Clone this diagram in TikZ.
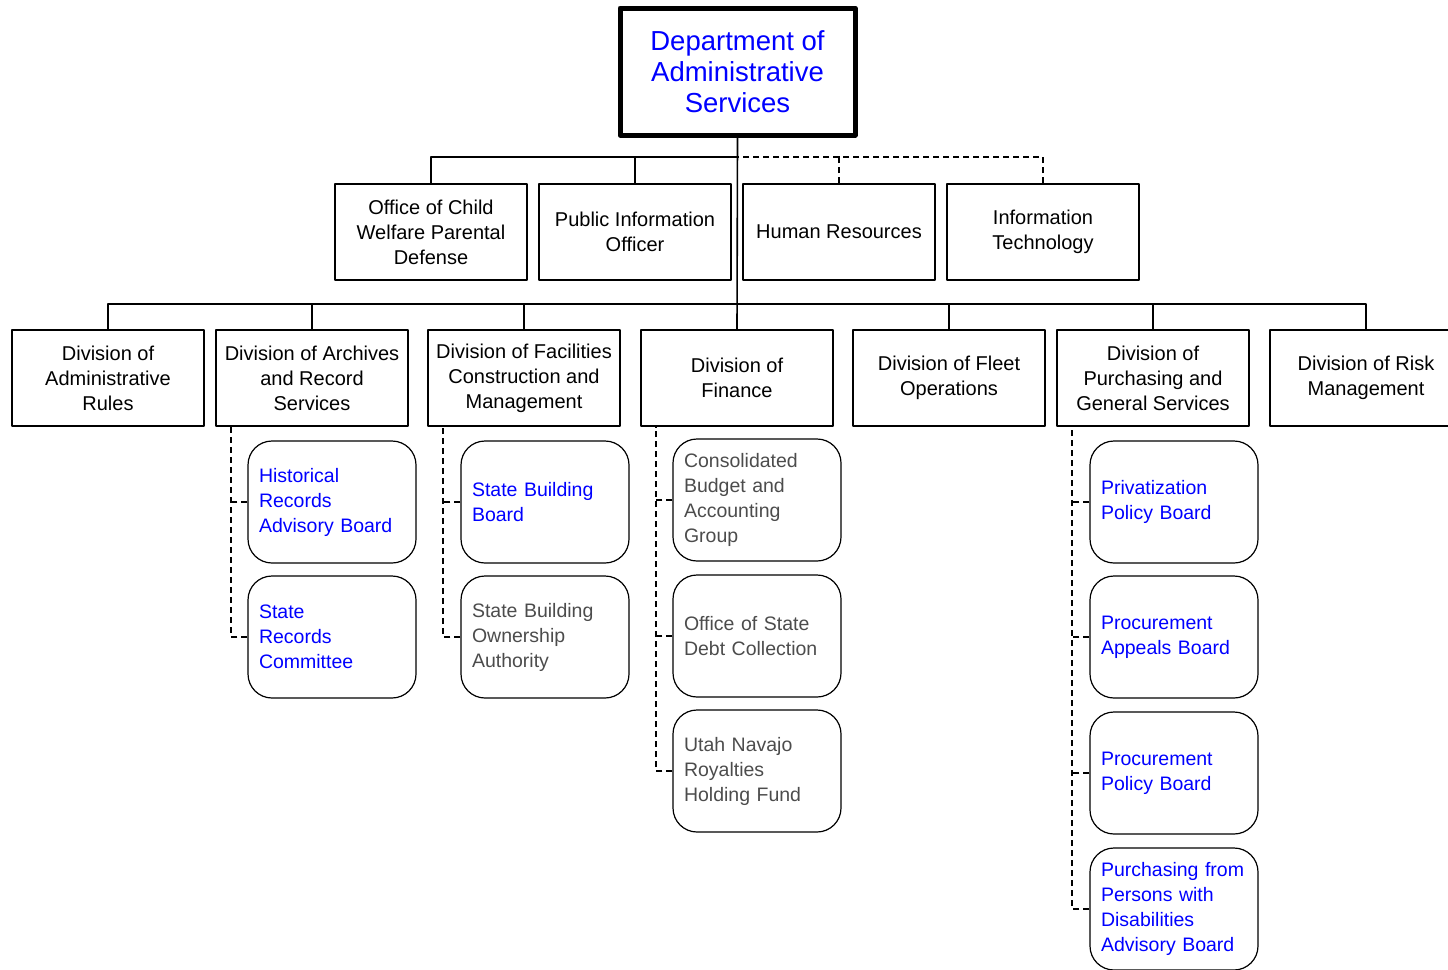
\documentclass[tikz,border=0pt]{standalone}
\usepackage{fontspec}
\setmainfont{Liberation Sans}
\begin{document}
\begin{tikzpicture}[x=1pt,y=-1pt,line join=round,
    topbox/.style={draw,line width=5pt,minimum width=235pt,minimum height=127pt,inner sep=0pt,text=blue,align=center,font=\fontsize{27.5}{31}\selectfont},
    unitbox/.style={draw,line width=1.6pt,minimum width=192pt,minimum height=96pt,inner sep=0pt,align=center,font=\fontsize{20}{25}\selectfont},
    subbox/.style={draw,line width=1.2pt,rounded corners=24pt,minimum width=168pt,minimum height=122pt,inner xsep=11pt,inner ysep=0pt,text width=146pt,align=left,font=\fontsize{19.5}{25}\selectfont},
    board/.style={subbox,text=blue},
    group/.style={subbox,text=black!70},
    solidline/.style={line width=1.6pt},
    subline/.style={line width=1.7pt,dash pattern=on 6pt off 4pt}]
    \useasboundingbox (0,0) rectangle (1448,969);

    % the department
    \node[topbox] (dept) at (737.5,71.5) {Department of\\Administrative\\Services};

    % staff offices
    \node[unitbox] (cw)  at (431,232)  {Office of Child\\Welfare Parental\\Defense};
    \node[unitbox] (pio) at (635,232)  {Public Information\\Officer};
    \node[unitbox] (hr)  at (839,232)  {Human Resources};
    \node[unitbox] (it)  at (1043,232) {Information\\Technology};

    % divisions
    \node[unitbox] (adm)   at (108,378)  {Division of\\Administrative\\Rules};
    \node[unitbox] (arch)  at (312,378)  {Division of Archives\\and Record\\Services};
    \node[unitbox] (fac)   at (524,378)  {Division of Facilities\\Construction and\\Management};
    \node[unitbox] (fin)   at (737,378)  {Division of\\Finance};
    \node[unitbox] (fleet) at (949,378)  {Division of Fleet\\Operations};
    \node[unitbox] (purch) at (1153,378) {Division of\\Purchasing and\\General Services};
    \node[unitbox] (risk)  at (1366,378) {Division of Risk\\Management};

    % boards and groups
    \node[board] (hrab) at (332,502) {Historical\\Records\\Advisory Board};
    \node[board] (src)  at (332,637) {State\\Records\\Committee};
    \node[board] (sbb)  at (545,502) {State Building\\Board};
    \node[group] (sboa) at (545,637) {State Building\\Ownership\\Authority};
    \node[group] (cbag) at (757,500) {Consolidated\\Budget and\\Accounting\\Group};
    \node[group] (osdc) at (757,636) {Office of State\\Debt Collection};
    \node[group] (unr)  at (757,771) {Utah Navajo\\Royalties\\Holding Fund};
    \node[board] (ppb)  at (1174,502) {Privatization\\Policy Board};
    \node[board] (pab)  at (1174,637) {Procurement\\Appeals Board};
    \node[board] (prpb) at (1174,773) {Procurement\\Policy Board};
    \node[board] (ppda) at (1174,909) {Purchasing from\\Persons with\\Disabilities\\Advisory Board};

    % bars
    \coordinate (staffbar) at (737,157);
    \coordinate (divbar) at (737,304);

    % trunk and staff lines
    \draw[solidline] (dept.south) -- (fin.north);
    \draw[solidline] (cw.north) |- (staffbar);
    \draw[solidline] (pio.north) |- (staffbar);
    \draw[subline] (it.north) |- (hr.north |- staffbar) -- (staffbar);
    \draw[subline] (hr.north) -- (hr.north |- staffbar);

    % division lines
    \foreach \d in {adm,arch,fac,fleet,purch,risk}
        \draw[solidline] (\d.north) |- (divbar);

    % dashed lines to the boards
    \draw[subline] (hrab.west) -- ++(-17,0);
    \draw[subline] (src.west) -| ([xshift=16pt]arch.south west);
    \draw[subline] (sbb.west) -- ++(-17,0);
    \draw[subline] (sboa.west) -| ([xshift=16pt]fac.south west);
    \foreach \b in {cbag,osdc}
        \draw[subline] (\b.west) -- ++(-17,0);
    \draw[subline] (unr.west) -| ([xshift=16pt]fin.south west);
    \foreach \b in {ppb,pab,prpb}
        \draw[subline] (\b.west) -- ++(-17,0);
    \draw[subline] (ppda.west) -| ([xshift=16pt]purch.south west);
\end{tikzpicture}
\end{document}
